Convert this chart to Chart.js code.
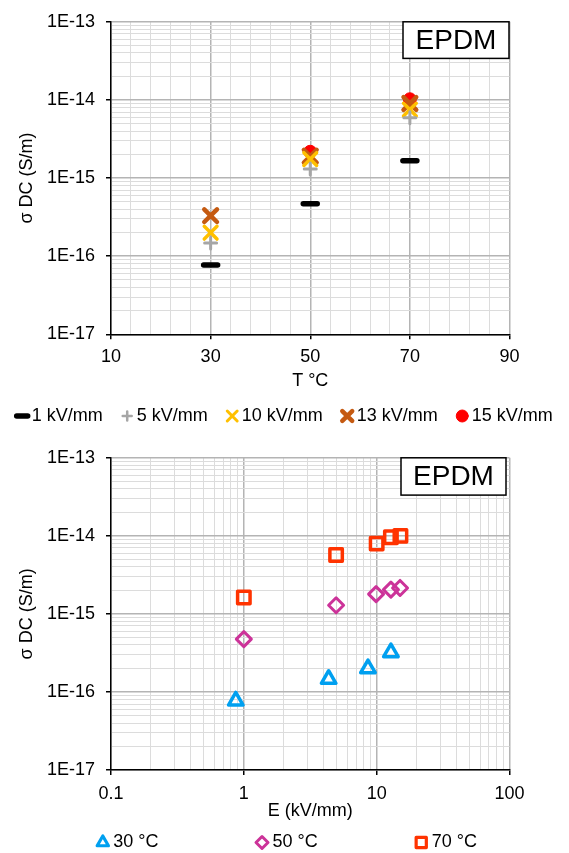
<!DOCTYPE html>
<html>
<head>
<meta charset="utf-8">
<script src="https://cdn.jsdelivr.net/npm/chart.js@4.4.1/dist/chart.umd.min.js"></script>
<style>
  html, body { margin: 0; padding: 0; background: #fff; }
  #wrap { position: relative; width: 569px; height: 853px; }
  canvas { position: absolute; left: 0; }
  #tempChart { top: 0; }
  #fieldChart { top: 436px; }
</style>
</head>
<body>
<div id="wrap">
  <canvas id="tempChart" width="569" height="436"></canvas>
  <canvas id="fieldChart" width="569" height="417"></canvas>
</div>
<script>
// 1. DATA
const temps = [30, 50, 70];
const sigma1kV = [7.7e-17, 4.7e-16, 1.67e-15];
const sigma5kV = [1.47e-16, 1.31e-15, 5.9e-15];
const sigma10kV = [2.0e-16, 1.75e-15, 7.5e-15];
const sigma13kV = [3.3e-16, 1.9e-15, 9.0e-15];
const sigma15kV = [null, 2.17e-15, 1.02e-14];

const field30 = [0.87, 4.35, 8.6, 12.8];
const sigma30C = [7.7e-17, 1.46e-16, 2.0e-16, 3.2e-16];
const field50 = [1.0, 4.95, 9.9, 12.8, 15.0];
const sigma50C = [4.75e-16, 1.29e-15, 1.79e-15, 2.05e-15, 2.15e-15];
const field70 = [1.0, 4.95, 10.0, 12.8, 15.1];
const sigma70C = [1.62e-15, 5.7e-15, 7.95e-15, 9.6e-15, 1.0e-14];

const tempTicks = [10, 14, 18, 22, 26, 30, 34, 38, 42, 46, 50, 54, 58, 62, 66, 70, 74, 78, 82, 86, 90];
const tempLabels = [10, 30, 50, 70, 90];
const boxLabel = 'EPDM';

const FONT = '"Liberation Sans", Arial, sans-serif';
const MAJOR_GRID = '#b4b4b4';
const MINOR_GRID = '#dcdcdc';

Chart.defaults.font.family = FONT;
Chart.defaults.font.size = 18;
Chart.defaults.color = '#000';

function toPoints(xs, ys) {
    return xs.map((x, i) => ({ x: x, y: ys[i] })).filter(p => p.y != null);
}

// decade ticks 1..9 for a log axis
function logTicks(minExp, maxExp) {
    const ticks = [];
    for (let e = minExp; e < maxExp; e++) {
        for (let m = 1; m <= 9; m++) ticks.push({ value: m * Math.pow(10, e), major: m === 1 });
    }
    ticks.push({ value: Math.pow(10, maxExp), major: true });
    return ticks;
}

const isMajor = c => !!(c.tick && c.tick.major);
const gridStyle = {
    color: c => isMajor(c) ? MAJOR_GRID : MINOR_GRID,
    lineWidth: c => isMajor(c) ? 1.5 : 1,
    tickColor: c => isMajor(c) ? '#000' : 'rgba(0,0,0,0)',
    tickLength: 5,
    tickWidth: 1.5
};

function sigmaAxis() {
    return {
        type: 'logarithmic',
        min: 1e-17,
        max: 1e-13,
        afterBuildTicks: s => { s.ticks = logTicks(-17, -13); },
        afterFit: s => { s.width = 111; },
        ticks: {
            autoSkip: false,
            padding: 11,
            callback: (v, i, ticks) => ticks[i].major ? '1E' + Math.round(Math.log10(v)) : ''
        },
        grid: gridStyle,
        border: { color: '#000', width: 1.5 },
        title: { display: true, text: 'σ DC (S/m)', padding: { top: 16.2, bottom: 0 } }
    };
}

// 2. PLUGINS: round marker caps, label box, legend row
const roundCaps = {
    id: 'roundCaps',
    beforeDatasetsDraw(chart) {
        chart.ctx.save();
        chart.ctx.lineCap = 'round';
        chart.ctx.lineJoin = 'round';
    },
    afterDatasetsDraw(chart) {
        chart.ctx.restore();
    }
};

const labelBox = {
    id: 'labelBox',
    afterDatasetsDraw(chart, args, opts) {
        const { ctx, chartArea } = chart;
        const x = chartArea.right - opts.width - opts.inset;
        const y = chartArea.top;
        ctx.save();
        ctx.fillStyle = '#fff';
        ctx.fillRect(x, y, opts.width, opts.height);
        ctx.strokeStyle = '#000';
        ctx.lineWidth = 1.5;
        ctx.strokeRect(x, y, opts.width, opts.height);
        ctx.fillStyle = '#000';
        ctx.font = '28px ' + FONT;
        ctx.textAlign = 'center';
        ctx.textBaseline = 'middle';
        ctx.fillText(opts.text, x + opts.width / 2, y + opts.height / 2 + 1);
        ctx.restore();
    }
};

const rowLegend = {
    id: 'rowLegend',
    afterDraw(chart, args, opts) {
        const ctx = chart.ctx;
        ctx.save();
        ctx.font = '18px ' + FONT;
        ctx.textBaseline = 'middle';
        ctx.textAlign = 'left';
        ctx.lineCap = 'round';
        ctx.lineJoin = 'round';
        let x = opts.start;
        chart.data.datasets.forEach(ds => {
            ctx.strokeStyle = ds.pointBorderColor;
            ctx.fillStyle = ds.pointBackgroundColor;
            ctx.lineWidth = ds.legendWidth;
            Chart.helpers.drawPoint(ctx, {
                pointStyle: ds.pointStyle, radius: ds.legendRadius, borderWidth: ds.legendWidth, rotation: 0
            }, x - opts.markerGap, opts.y);
            ctx.fillStyle = '#000';
            ctx.fillText(ds.label, x, opts.y);
            x += ctx.measureText(ds.label).width + opts.gap;
        });
        ctx.restore();
    }
};

function series(label, data, style, color, radius, width, fill, legendRadius, legendWidth) {
    return {
        label: label,
        data: data,
        showLine: false,
        pointStyle: style,
        pointRadius: radius,
        pointBorderWidth: width,
        pointBorderColor: color,
        pointBackgroundColor: fill,
        legendRadius: legendRadius,
        legendWidth: legendWidth
    };
}

// 3. TOP CHART: sigma vs temperature
new Chart(document.getElementById('tempChart'), {
    type: 'scatter',
    data: {
        datasets: [
            series('1 kV/mm', toPoints(temps, sigma1kV), 'line', '#000000', 7, 5.5, '#000000', 5.5, 5.5),
            series('5 kV/mm', toPoints(temps, sigma5kV), 'cross', '#a6a6a6', 6, 3, '#a6a6a6', 4.5, 2.5),
            series('10 kV/mm', toPoints(temps, sigma10kV), 'crossRot', '#ffc000', 9, 3.5, '#ffc000', 7, 3),
            series('13 kV/mm', toPoints(temps, sigma13kV), 'crossRot', '#c55a11', 9, 4.5, '#c55a11', 7, 4.5),
            series('15 kV/mm', toPoints(temps, sigma15kV), 'circle', '#ff0000', 6.5, 1, '#ff0000', 6, 1)
        ]
    },
    options: {
        responsive: false,
        animation: false,
        events: [],
        layout: { padding: { top: 17.3, right: 59.5, bottom: 44.2, left: 0 } },
        scales: {
            x: {
                type: 'linear',
                min: 10,
                max: 90,
                afterBuildTicks: s => { s.ticks = tempTicks.map(v => ({ value: v, major: tempLabels.includes(v) })); },
                afterFit: s => { s.height = 57.5; },
                ticks: {
                    autoSkip: false,
                    maxRotation: 0,
                    padding: 7,
                    callback: (v, i, ticks) => ticks[i].major ? String(v) : ''
                },
                grid: gridStyle,
                border: { color: '#000', width: 1.5 },
                title: { display: true, text: 'T °C', padding: 0 }
            },
            y: sigmaAxis()
        },
        plugins: {
            legend: { display: false },
            tooltip: { enabled: false },
            labelBox: { text: boxLabel, width: 106, height: 36.6, inset: 0.5 },
            rowLegend: { start: 31.7, y: 416, gap: 34, markerGap: 9.5 }
        }
    },
    plugins: [roundCaps, labelBox, rowLegend]
});

// 4. BOTTOM CHART: sigma vs field
new Chart(document.getElementById('fieldChart'), {
    type: 'scatter',
    data: {
        datasets: [
            series('30 °C', toPoints(field30, sigma30C), 'triangle', '#00a0f0', 8.4, 3.5, 'rgba(0,0,0,0)', 6.5, 3.2),
            series('50 °C', toPoints(field50, sigma50C), 'rectRot', '#cc3399', 7.5, 3, 'rgba(0,0,0,0)', 6, 3),
            series('70 °C', toPoints(field70, sigma70C), 'rect', '#ff3300', 8.8, 3.5, 'rgba(0,0,0,0)', 7.2, 3.2)
        ]
    },
    options: {
        responsive: false,
        animation: false,
        events: [],
        layout: { padding: { top: 16.7, right: 59.5, bottom: 31.2, left: 0 } },
        scales: {
            x: {
                type: 'logarithmic',
                min: 0.1,
                max: 100,
                afterBuildTicks: s => { s.ticks = logTicks(-1, 2); },
                afterFit: s => { s.height = 51.8; },
                ticks: {
                    autoSkip: false,
                    maxRotation: 0,
                    padding: 8,
                    callback: (v, i, ticks) => ticks[i].major ? String(v) : ''
                },
                grid: gridStyle,
                border: { color: '#000', width: 1.5 },
                title: { display: true, text: 'E (kV/mm)', padding: 0 }
            },
            y: sigmaAxis()
        },
        plugins: {
            legend: { display: false },
            tooltip: { enabled: false },
            labelBox: { text: boxLabel, width: 105, height: 37.3, inset: 3.5 },
            rowLegend: { start: 113.3, y: 406.5, gap: 114, markerGap: 10.5 }
        }
    },
    plugins: [roundCaps, labelBox, rowLegend]
});
</script>
</body>
</html>
